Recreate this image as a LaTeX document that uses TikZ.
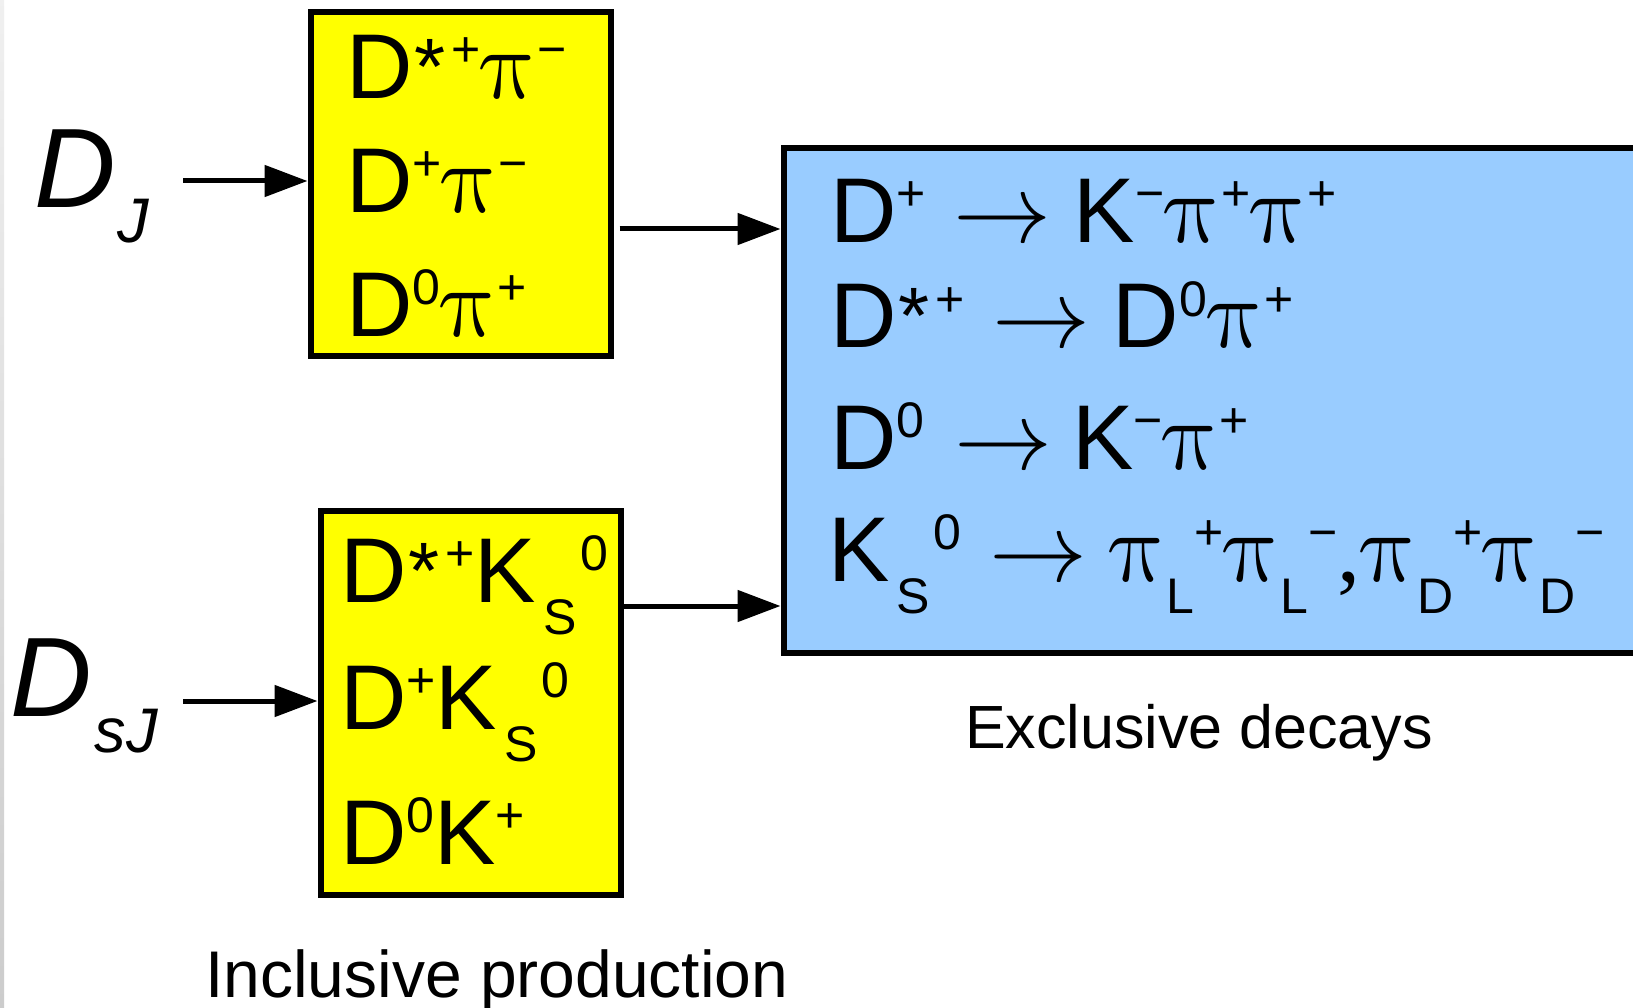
\RequirePackage{fix-cm}
\documentclass[tikz,border=0pt]{standalone}
\usepackage{fontspec}
\setmainfont{Liberation Sans}
\newfontfamily\grk{Liberation Serif}
\usetikzlibrary{arrows.meta,calc}

\definecolor{boxyellow}{RGB}{255,255,0}
\definecolor{boxblue}{RGB}{153,204,255}

% sizes and scripts for the particle formulas
\newcommand\msz{\fontsize{92}{100}\selectfont}
\newcommand\ssz{\fontsize{50}{52}\selectfont}
\newcommand\up[1]{\raisebox{32pt}{\ssz #1}}
\newcommand\dn[1]{\raisebox{-32pt}{\ssz #1}}
% upright pi: the math-italic glyph with its slant taken back out
\newcommand\gpi{\kern4pt\tikz[baseline=0pt,x=1pt,y=1pt]{%
  \path[use as bounding box] (0,0) rectangle (53,44);
  \node[inner sep=0pt,anchor=base west,xslant=-0.22,font=\fontsize{100}{100}\selectfont] at (0,0) {$\pi$};}}
\newcommand\astsup{\kern2pt\raisebox{4pt}{\fontsize{80}{80}\selectfont *}\kern6pt}
\newcommand\decarrow{{\fontsize{98}{100}\selectfont$\rightarrow$}}
\newcommand\Kshort{K\kern7pt\dn{S}\kern4pt\up{0}}

\tikzset{
  panel/.style={draw=black, line width=6pt, inner sep=0pt},
  txt/.style={anchor=base west, inner sep=0pt, outer sep=0pt, text=black},
  flow/.style={line width=5pt, -{Triangle[length=43pt,width=31pt]}},
}

\begin{document}
\begin{tikzpicture}[x=1pt,y=-1pt]
\useasboundingbox (0,0) rectangle (1633,1008);
\fill[white] (0,0) rectangle (1633,1008);
\shade[top color=black!6, bottom color=black!20] (0,0) rectangle (4,1008);

% boxes
\node[panel, fill=boxyellow, minimum width=300pt, minimum height=343pt] (b1) at (460.5,184) {};
\node[panel, fill=boxyellow, minimum width=300pt, minimum height=384pt] (b2) at (470.5,702.5) {};
\node[panel, fill=boxblue, minimum width=900pt, minimum height=504pt] (b3) at (1233.5,400.5) {};

% resonance labels
\node[txt] (dj) at (34,208) {\fontsize{113}{120}\selectfont\itshape D\kern2pt\raisebox{-35pt}{\fontsize{63}{63}\selectfont J}};
\node[txt] (dsj) at (10,716.5) {\fontsize{113}{120}\selectfont\itshape D\kern3pt\raisebox{-35.5pt}{\fontsize{63}{63}\selectfont sJ}};

% connectors
\coordinate (djout) at (183,181);
\coordinate (dsjout) at (183,701);
\coordinate (lvl1) at (0,229);
\coordinate (lvl2) at (0,606);
\draw[flow] (djout) -- (djout -| b1.west);
\draw[flow] (dsjout) -- (dsjout -| b2.west);
\draw[flow, shorten <=6pt] (b1.east |- lvl1) -- (b3.west |- lvl1);
\draw[flow] (b2.east |- lvl2) -- (b3.west |- lvl2);

% D_J channels
\node[txt] (r11) at (346,99)  {\msz D\astsup\up{+}\gpi\up{−}};
\node[txt] (r12) at (346,213) {\msz D\up{+}\gpi\up{−}};
\node[txt] (r13) at (346,336) {\msz D\up{0}\gpi\up{+}};

% D_sJ channels
\node[txt] (r21) at (340,602) {\msz D\astsup\up{+}\Kshort};
\node[txt] (r22) at (340,729) {\msz D\up{+}\Kshort};
\node[txt] (r23) at (340,864) {\msz D\up{0}K\up{+}};

% exclusive decay modes
\node[txt] (e1) at (830,243) {\msz D\up{+}\hspace{28pt}\decarrow\hspace{22pt}K\up{−}\gpi\up{+}\gpi\up{+}};
\node[txt] (e2) at (830,348) {\msz D\astsup\up{+}\hspace{28pt}\decarrow\hspace{22pt}D\up{0}\gpi\up{+}};
\node[txt] (e3) at (830,469) {\msz D\up{0}\hspace{30pt}\decarrow\hspace{20pt}K\up{−}\gpi\up{+}};
\node[txt] (e4) at (828,581) {\msz \Kshort\hspace{28pt}\decarrow\hspace{22pt}\gpi\dn{L}\up{+}\gpi\dn{L}\up{−}{\grk ,}\gpi\dn{D}\up{+}\gpi\dn{D}\up{−}};

% captions
\node[txt] (lexc) at (965,748) {\fontsize{61}{61}\selectfont Exclusive decays};
\node[txt] (linc) at (205,997) {\fontsize{66}{66}\selectfont Inclusive production};
\end{tikzpicture}
\end{document}
